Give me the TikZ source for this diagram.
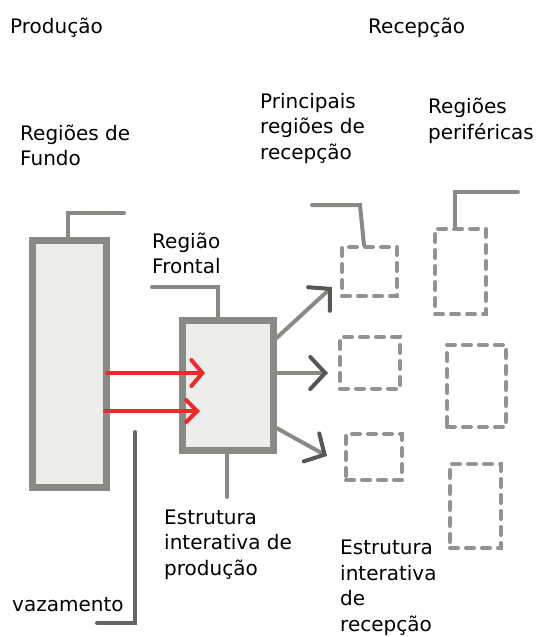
\documentclass[tikz,border=0pt]{standalone}
\usepackage{fontspec}
\setmainfont{DejaVu Sans}
\usetikzlibrary{arrows.meta,calc}
\definecolor{boxgray}{HTML}{888A85}
\definecolor{boxfill}{HTML}{EDEDEB}
\definecolor{dashgray}{HTML}{929390}
\definecolor{darkgray}{HTML}{555753}
\definecolor{leakgray}{HTML}{666666}
\definecolor{flowred}{HTML}{EF2929}
\tikzset{
  lbl/.style={anchor=base west, inner sep=0pt, align=left, font=\fontsize{20}{25.5}\selectfont},
  solidbox/.style={draw=boxgray, fill=boxfill, line width=7pt, inner sep=0pt},
  dashbox/.style={draw=dashgray, line width=4pt, dash pattern=on 8pt off 8pt, line cap=round, inner sep=0pt},
  bracket/.style={draw=boxgray, line width=4pt, line cap=round},
  redflow/.style={draw=flowred, line width=4pt, line cap=round, -{Straight Barb[length=11pt,width=26pt,line cap=round]}},
  grayflow/.style={draw=boxgray, line width=4pt, line cap=round, -{Straight Barb[length=15pt,width=32pt,line cap=round,color=darkgray]}},
  leak/.style={draw=leakgray, line width=4pt, line cap=round}
}
\begin{document}
\begin{tikzpicture}[x=1pt,y=-1pt]
\useasboundingbox (0,0) rectangle (538,637);
% texts (anchor = baseline of last line)
\node[lbl] (tprod) at (10,33) {Produção};
\node[lbl] (trec) at (368,33) {Recepção};
\node[lbl] (tfundo) at (20,165.5) {Regiões de\\Fundo};
\node[lbl] (tprinc) at (260,159) {Principais\\regiões de\\recepção};
\node[lbl] (tperif) at (428,139) {Regiões\\periféricas};
\node[lbl] (tfront) at (152,273.5) {Região\\Frontal};
\node[lbl] (teprod) at (164,575) {Estrutura\\interativa de\\produção};
\node[lbl] (tvaz) at (12,611) {vazamento};
\node[lbl] (terec) at (340,631) {Estrutura\\interativa\\de\\recepção};
% boxes
\node[solidbox, minimum width=74pt, minimum height=247pt] (fundo) at (69,363.5) {};
\node[solidbox, minimum width=91pt, minimum height=130pt] (front) at (227.5,385) {};
\node[dashbox, minimum width=55pt, minimum height=49pt] (b1) at (369.5,271.5) {};
\node[dashbox, minimum width=60pt, minimum height=52pt] (b2) at (370,363) {};
\node[dashbox, minimum width=56pt, minimum height=46pt] (b3) at (374,457) {};
\node[dashbox, minimum width=51pt, minimum height=85pt] (b4) at (460.5,271.5) {};
\node[dashbox, minimum width=59pt, minimum height=82pt] (b5) at (476.5,386) {};
\node[dashbox, minimum width=51pt, minimum height=84pt] (b6) at (475.5,506) {};
% bracket coordinates
\coordinate (fk) at (124,213);
\coordinate (frk) at (152,287);
\coordinate (b1k) at (312,205);
\coordinate (b4k) at (518,192);
\coordinate (eprodk) at (227,497);
\coordinate (leaktop) at (135,432);
\coordinate (leakbot) at (97,623);
% brackets
\draw[bracket] (fundo.north -| 68,0) -- (68,213) -- (fk);
\draw[bracket] (front.north -| 218,0) -- (218,287) -- (frk);
\draw[bracket] (b1.north -| 364,0) -- (360,205) -- (b1k);
\draw[bracket] (b4.north -| 455,0) -- (455,192) -- (b4k);
\draw[bracket] (front.south -| 227,0) -- (eprodk);
\draw[leak] (leaktop) -- (135,623) -- (leakbot);
% red flows
\coordinate (r1s) at (107,373);
\coordinate (r1e) at (205,373);
\coordinate (r2s) at (105,411);
\coordinate (r2e) at (200,411);
\draw[redflow] (r1s) -- (r1e);
\draw[redflow, -{Straight Barb[length=11pt,width=22pt,line cap=round]}] (r2s) -- (r2e);
% gray flows
\coordinate (g1e) at (332,287);
\coordinate (g2e) at (328,373);
\coordinate (g3e) at (327,456);
\draw[grayflow] (front.east |- 0,338) -- (g1e);
\draw[grayflow] (front.east |- 0,373) -- (g2e);
\draw[grayflow] (front.east |- 0,428) -- (g3e);
\end{tikzpicture}
\end{document}
